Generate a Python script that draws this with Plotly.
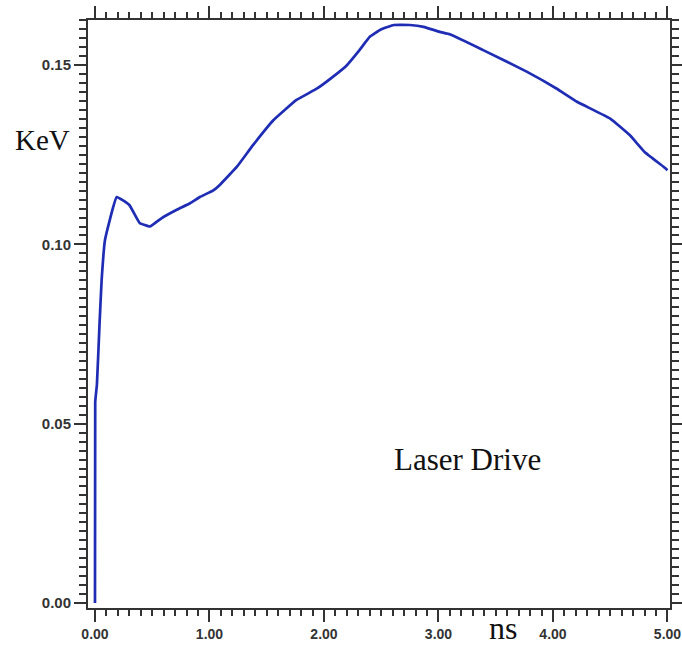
import plotly.graph_objects as go

# time in ns
t_ns = [0.000, 0.002, 0.017, 0.040, 0.058, 0.087, 0.19, 0.30, 0.39, 0.48, 0.58,
        0.71, 0.83, 0.92, 1.03, 1.09, 1.24, 1.38, 1.56, 1.76, 1.94, 2.08, 2.20,
        2.31, 2.40, 2.50, 2.61, 2.75, 2.87, 3.01, 3.10, 3.39, 3.77, 4.03, 4.21,
        4.50, 4.67, 4.80, 4.98, 5.00]
# temperature in KeV
kev = [0.000, 0.056, 0.061, 0.078, 0.090, 0.1012, 0.1132, 0.1110, 0.1060, 0.1050,
       0.1073, 0.1096, 0.1115, 0.1133, 0.1150, 0.1166, 0.1217, 0.1277, 0.1347,
       0.1403, 0.1435, 0.1468, 0.1500, 0.1542, 0.1579, 0.1600, 0.1612, 0.1612,
       0.1607, 0.1593, 0.1586, 0.1542, 0.1482, 0.1435, 0.1398, 0.1351, 0.1305,
       0.1258, 0.1213, 0.1207]

x_ticks = [0, 1, 2, 3, 4, 5]
x_labels = ["0.00", "1.00", "2.00", "3.00", "4.00", "5.00"]
y_ticks = [0.0, 0.05, 0.10, 0.15]
y_labels = ["0.00", "0.05", "0.10", "0.15"]

fig = go.Figure()
fig.add_trace(go.Scatter(x=t_ns, y=kev, mode="lines",
                         line=dict(color="#1f2db5", width=2.7, shape="spline", smoothing=0.3),
                         hoverinfo="skip", showlegend=False))

xtickfont = dict(family="Liberation Sans", size=14, color="#333333", weight="bold")
ytickfont = dict(family="Liberation Sans", size=15, color="#333333", weight="bold")

W, H = 682, 649
L, R, T, B = 88, 12, 20, 41
pw, ph = W - L - R, H - T - B


def px(xp):
    return (xp - L) / pw


def py(yp):
    return (H - B - yp) / ph


fig.update_layout(
    template="none",
    width=W, height=H,
    margin=dict(l=L, r=R, t=T, b=B, autoexpand=False),
    paper_bgcolor="white", plot_bgcolor="white",
    xaxis=dict(range=[-0.061, 5.022], tickvals=x_ticks, ticktext=x_labels, automargin=False,
               showgrid=False, zeroline=False, showline=True, linecolor="#333333",
               linewidth=2, mirror="ticks", ticks="outside", ticklen=12, tickwidth=2,
               tickcolor="#333333", tickfont=xtickfont,
               minor=dict(dtick=0.1, ticks="outside", ticklen=6, tickwidth=1.5,
                          tickcolor="#333333", showgrid=False)),
    yaxis=dict(range=[-0.0014, 0.1626], tickvals=y_ticks, ticktext=y_labels, automargin=False,
               showgrid=False, zeroline=False, showline=True, linecolor="#333333",
               linewidth=2, mirror="ticks", ticks="outside", ticklen=12, tickwidth=2,
               tickcolor="#333333", tickfont=ytickfont,
               minor=dict(dtick=0.0025, ticks="outside", ticklen=7, tickwidth=1.5,
                          tickcolor="#333333", showgrid=False)),
    annotations=[
        dict(x=px(42), y=py(140), xref="paper", yref="paper", text="KeV", showarrow=False,
             xanchor="center", yanchor="middle",
             font=dict(family="Liberation Serif", size=29, color="#111111")),
        dict(x=px(467), y=py(460), xref="paper", yref="paper", text="Laser Drive",
             showarrow=False, xanchor="center", yanchor="middle",
             font=dict(family="Liberation Serif", size=31, color="#111111")),
        dict(x=px(503), y=py(628), xref="paper", yref="paper", text="ns", showarrow=False,
             xanchor="center", yanchor="middle",
             font=dict(family="Liberation Serif", size=32, color="#111111")),
    ],
)

fig.write_html("out.html")
